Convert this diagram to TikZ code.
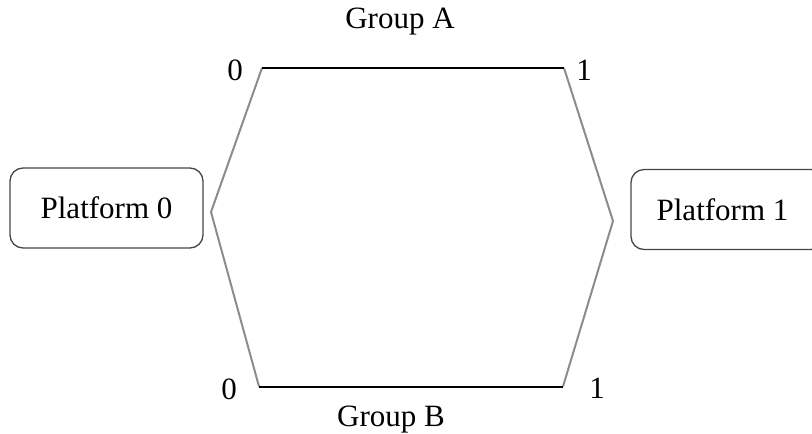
\documentclass[tikz,border=0pt]{standalone}
\usepackage{fontspec}
\setmainfont{Liberation Serif}
\usetikzlibrary{positioning, calc}
\definecolor{edgegray}{RGB}{140, 140, 140}
\definecolor{boxgray}{RGB}{70, 70, 70}

\begin{document}
\begin{tikzpicture}[x=1pt, y=-1pt,
    font=\fontsize{31}{36}\selectfont,
    platform/.style={draw=boxgray, line width=1.3pt, rounded corners=13pt, minimum width=193pt, minimum height=80pt, inner sep=0pt},
    group/.style={black, line width=2pt},
    link/.style={edgegray, line width=2pt},
    label/.style={anchor=base, inner sep=0pt}
]
    \useasboundingbox (0,0) rectangle (812,434);

    % Platforms
    \node[platform] (p0) at (106.5,208) {Platform 0};
    \node[platform] (p1) at (727.5,209.5) {\hspace*{-10pt}Platform 1};

    % Ports
    \coordinate (a0) at (262,68);
    \coordinate (a1) at (564,68);
    \coordinate (b0) at (259,386.5);
    \coordinate (b1) at (563,386.5);
    \coordinate (l) at (211,212);
    \coordinate (r) at (613,221);

    % Links
    \draw[link] (a0) -- (l) -- (b0);
    \draw[link] (a1) -- (r) -- (b1);
    \draw[group] (a0) -- (a1);
    \draw[group] (b0) -- (b1);

    % Labels
    \node[label] (ga) at (400,28) {Group A};
    \node[label] (gb) at (391,426) {Group B};
    \node[label] (na0) at (235,80) {0};
    \node[label] (na1) at (584,80) {1};
    \node[label] (nb0) at (229,399) {0};
    \node[label] (nb1) at (597,398) {1};
\end{tikzpicture}
\end{document}
